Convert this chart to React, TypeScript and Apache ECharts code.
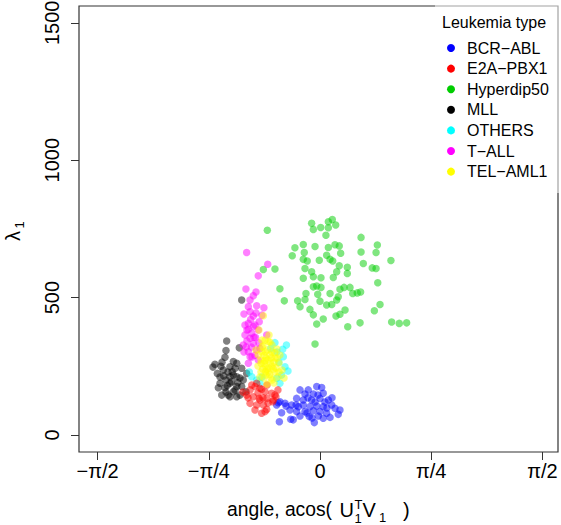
import React, { useEffect, useRef } from "react";
import * as echarts from "echarts";

const categories = ["BCR−ABL", "E2A−PBX1", "Hyperdip50", "MLL", "OTHERS", "T−ALL", "TEL−AML1"];
const colors = ["#0000FF", "#FF0000", "#00CD00", "#000000", "#00FFFF", "#FF00FF", "#FFFF00"];
const legendTitle = "Leukemia type";

const xTickValues = [-Math.PI / 2, -Math.PI / 4, 0, Math.PI / 4, Math.PI / 2];
const xTickLabels = ["−π/2", "−π/4", "0", "π/4", "π/2"];
const yTickValues = [0, 500, 1000, 1500];

const bcrAbl: [number, number][] = [
  [-0.141, 164], [-0.083, 164], [-0.023, 176], [0.012, 173], [0.023, 152], [-0.047, 149], [-0.106, 149],
  [-0.165, 133], [-0.118, 127], [-0.059, 127], [0.0, 133], [0.059, 127], [0.083, 109], [-0.247, 115],
  [-0.2, 109], [-0.153, 103], [-0.118, 109], [-0.071, 103], [-0.023, 105], [0.023, 103], [0.106, 97],
  [-0.306, 109], [-0.271, 81], [-0.212, 91], [-0.165, 85], [-0.106, 85], [-0.047, 88], [0.0, 85],
  [0.047, 79], [0.129, 75], [-0.141, 69], [-0.076, 67], [-0.012, 69], [0.023, 61], [0.071, 64],
  [-0.207, 57], [-0.189, 55], [-0.04, 45], [-0.283, 121], [-0.24, 105], [-0.287, 48], [-0.295, 117],
  [-0.035, 120], [0.035, 120], [-0.085, 135], [-0.014, 145], [0.049, 98], [-0.092, 80], [-0.169, 109],
  [-0.056, 62], [0.085, 135], [0.141, 91],
];

const e2aPbx1: [number, number][] = [
  [-0.494, 164], [-0.459, 176], [-0.424, 170], [-0.388, 157], [-0.341, 152], [-0.311, 139], [-0.518, 145],
  [-0.471, 139], [-0.429, 133], [-0.376, 133], [-0.334, 121], [-0.494, 115], [-0.447, 109], [-0.4, 109],
  [-0.376, 93], [-0.459, 91], [-0.412, 166], [-0.447, 188], [-0.482, 182], [-0.388, 85], [-0.318, 145],
  [-0.33, 127], [-0.412, 79], [-0.297, 164], [-0.544, 156], [-0.374, 182], [-0.424, 127], [-0.438, 153],
  [-0.367, 116], [-0.508, 135], [-0.403, 135],
];

const hyperdip50: [number, number][] = [
  [-0.059, 770], [-0.047, 748], [0.005, 755], [0.059, 776], [0.087, 784], [0.111, 764], [0.059, 754],
  [0.042, 727], [0.29, 719], [-0.177, 681], [-0.118, 693], [-0.035, 686], [0.059, 682], [0.106, 692],
  [0.136, 688], [0.405, 691], [-0.196, 652], [-0.111, 664], [-0.118, 639], [-0.09, 633], [-0.005, 636],
  [0.047, 654], [0.071, 639], [0.09, 633], [0.146, 661], [0.29, 666], [0.396, 664], [0.501, 635],
  [-0.372, 745], [-0.318, 604], [-0.106, 606], [-0.059, 594], [-0.047, 576], [-0.118, 570], [0.007, 572],
  [0.094, 573], [0.118, 594], [0.136, 616], [0.193, 610], [0.193, 588], [0.306, 624], [0.369, 608],
  [0.396, 606], [0.408, 554], [-0.283, 532], [-0.047, 539], [-0.023, 542], [0.007, 537], [-0.016, 512],
  [-0.099, 515], [-0.106, 493], [0.071, 515], [0.141, 530], [0.17, 537], [0.212, 537], [0.231, 515],
  [0.263, 517], [0.287, 520], [-0.252, 488], [-0.158, 488], [0.0, 487], [0.047, 473], [0.083, 475],
  [0.118, 491], [0.129, 503], [-0.141, 467], [-0.071, 457], [-0.047, 437], [0.023, 422], [-0.023, 404],
  [0.113, 433], [0.141, 439], [0.177, 455], [0.196, 394], [0.283, 408], [0.384, 452], [0.424, 475],
  [0.506, 411], [0.56, 406], [0.612, 408], [-0.035, 331], [-0.4, 602],
];

const mll: [number, number][] = [
  [-0.553, 491], [-0.659, 342], [-0.664, 307], [-0.671, 283], [-0.57, 317], [-0.742, 257], [-0.725, 224],
  [-0.683, 236], [-0.636, 248], [-0.612, 218], [-0.588, 261], [-0.553, 243], [-0.706, 188], [-0.718, 172],
  [-0.671, 172], [-0.636, 188], [-0.588, 176], [-0.542, 200], [-0.518, 224], [-0.636, 139], [-0.588, 139],
  [-0.694, 145], [-0.588, 212], [-0.636, 212], [-0.624, 194], [-0.553, 176], [-0.648, 145], [-0.612, 157],
  [-0.565, 145], [-0.523, 157], [-0.6, 243], [-0.612, 267], [-0.692, 265], [-0.65, 229], [-0.706, 211],
  [-0.664, 200], [-0.565, 207], [-0.6, 164], [-0.664, 156], [-0.756, 247], [-0.68, 215], [-0.62, 230],
  [-0.655, 180], [-0.7, 250], [-0.58, 190],
];

const others: [number, number][] = [
  [-0.318, 336], [-0.263, 312], [-0.259, 285], [-0.247, 248], [-0.271, 218], [-0.283, 188], [-0.306, 206],
  [-0.482, 212], [-0.447, 200], [-0.499, 229], [-0.348, 315], [-0.237, 327], [-0.29, 265], [-0.424, 189],
  [-0.304, 302], [-0.41, 211], [-0.226, 233],
];

const tAll: [number, number][] = [
  [-0.518, 664], [-0.369, 621], [-0.436, 579], [-0.523, 531], [-0.471, 507], [-0.506, 467], [-0.447, 470],
  [-0.396, 463], [-0.494, 448], [-0.471, 433], [-0.53, 400], [-0.506, 406], [-0.459, 400], [-0.429, 412],
  [-0.53, 364], [-0.482, 370], [-0.376, 364], [-0.542, 327], [-0.471, 333], [-0.506, 303], [-0.447, 309],
  [-0.436, 273], [-0.506, 261], [-0.436, 382], [-0.494, 352], [-0.516, 342], [-0.424, 315], [-0.494, 285],
  [-0.537, 440], [-0.41, 436], [-0.494, 491], [-0.452, 444], [-0.516, 382], [-0.466, 356], [-0.431, 335],
  [-0.537, 302], [-0.48, 284], [-0.452, 520], [-0.49, 420], [-0.505, 385], [-0.47, 395], [-0.455, 355],
  [-0.52, 320], [-0.485, 320], [-0.46, 290],
];

const telAml1: [number, number][] = [
  [-0.4, 434], [-0.365, 339], [-0.41, 345], [-0.339, 327], [-0.388, 303], [-0.436, 291], [-0.341, 302],
  [-0.304, 313], [-0.417, 273], [-0.367, 273], [-0.318, 280], [-0.438, 251], [-0.388, 251], [-0.339, 251],
  [-0.29, 262], [-0.417, 229], [-0.367, 229], [-0.318, 229], [-0.396, 207], [-0.346, 207], [-0.297, 211],
  [-0.374, 185], [-0.325, 189], [-0.268, 236], [-0.452, 309], [-0.36, 364], [-0.283, 291], [-0.403, 324],
  [-0.431, 382], [-0.254, 207], [-0.41, 302], [-0.381, 280], [-0.353, 291], [-0.325, 265], [-0.396, 262],
  [-0.36, 244], [-0.311, 244], [-0.424, 211], [-0.381, 218], [-0.339, 200], [-0.29, 229], [-0.41, 320],
  [-0.353, 338], [-0.304, 280], [-0.388, 345], [-0.395, 290], [-0.37, 310], [-0.345, 280], [-0.33, 240],
  [-0.375, 240], [-0.405, 240], [-0.355, 220], [-0.385, 230], [-0.32, 300], [-0.415, 260], [-0.35, 262],
  [-0.39, 270],
];

const seriesData = [bcrAbl, e2aPbx1, hyperdip50, mll, others, tAll, telAml1];
const drawOrder = [2, 3, 0, 4, 1, 5, 6];

const FONT = "'Liberation Sans', Arial, Helvetica, sans-serif";

export default function App() {
  const ref = useRef<HTMLDivElement>(null);
  useEffect(() => {
    if (!ref.current) return;
    const chart = echarts.init(ref.current, null, { renderer: "svg" });
    const txt = (text: string, x: number, y: number, size: number, extra: any = {}) => ({
      type: "text",
      x,
      y,
      z: 5,
      ...extra,
      style: { text, fontSize: size, fill: "#000", fontFamily: FONT, textAlign: "left", verticalAlign: "middle", ...(extra.style || {}) },
    });
    const option: any = {
      animation: false,
      textStyle: { fontFamily: FONT },
      grid: {
        left: 79,
        top: 6,
        width: 479,
        height: 446,
        show: false,
        containLabel: false,
        outerBoundsMode: "none",
      },
      xAxis: {
        type: "value",
        min: -1.702,
        max: 1.681,
        splitLine: { show: false },
        axisLine: { show: false, onZero: false },
        axisTick: {
          show: true,
          inside: false,
          length: 8,
          lineStyle: { color: "#333" },
          customValues: xTickValues,
        },
        axisLabel: {
          customValues: xTickValues,
          formatter: (v: number) => {
            let best = 0;
            xTickValues.forEach((t, i) => {
              if (Math.abs(t - v) < Math.abs(xTickValues[best] - v)) best = i;
            });
            return xTickLabels[best];
          },
          fontSize: 20,
          color: "#000",
          margin: 9,
          fontFamily: FONT,
        },
      },
      yAxis: {
        type: "value",
        min: -62,
        max: 1561,
        splitLine: { show: false },
        axisLine: { show: false, onZero: false },
        axisTick: {
          show: true,
          inside: false,
          length: 8,
          lineStyle: { color: "#333" },
          customValues: yTickValues,
        },
        axisLabel: {
          customValues: yTickValues,
          formatter: (v: number) => String(Math.round(v)),
          rotate: 90,
          fontSize: 20,
          color: "#000",
          margin: 17,
          fontFamily: FONT,
        },
      },
      legend: {
        data: categories,
        orient: "vertical",
        left: 447,
        top: 40,
        itemWidth: 8,
        itemHeight: 8,
        itemGap: 4.6,
        icon: "circle",
        padding: 0,
        selectedMode: false,
        itemStyle: { opacity: 1 },
        textStyle: { fontSize: 16, color: "#000", lineHeight: 16, padding: [0, 0, 0, 7], fontFamily: FONT },
      },
      graphic: [
        {
          type: "rect",
          shape: { x: 79, y: 6, width: 479, height: 446 },
          style: { fill: "none", stroke: "#333", lineWidth: 1.2 },
          z: 1,
          silent: true,
        },
        {
          type: "rect",
          shape: { x: 435, y: 0, width: 130, height: 193 },
          style: { fill: "rgba(255,255,255,0.55)", stroke: "none" },
          z: 3,
          silent: true,
        },
        txt(legendTitle, 442, 22, 16),
        txt("angle, acos(", 227, 509.5, 19.3),
        txt("U", 339.5, 509.5, 20),
        txt("T", 354.5, 504.5, 13),
        txt("1", 354.5, 518, 13),
        txt("V", 362.5, 509.5, 20),
        txt("1", 379, 517.5, 13),
        txt(")", 403, 509.5, 20),
        txt("λ", 13, 236, 20, { rotation: Math.PI / 2, style: { textAlign: "center" } }),
        txt("1", 19, 225, 13, { rotation: Math.PI / 2, style: { textAlign: "center" } }),
      ],
      series: drawOrder.map((i) => ({
        type: "scatter",
        name: categories[i],
        data: seriesData[i],
        symbol: "circle",
        symbolSize: 7.5,
        itemStyle: { color: colors[i], opacity: 0.5 },
        emphasis: { disabled: true },
        z: 2,
      })),
    };
    chart.setOption(option);
    return () => chart.dispose();
  }, []);
  return <div ref={ref} style={{ position: "absolute", left: 0, top: 0, width: 561, height: 525 }} />;
}
